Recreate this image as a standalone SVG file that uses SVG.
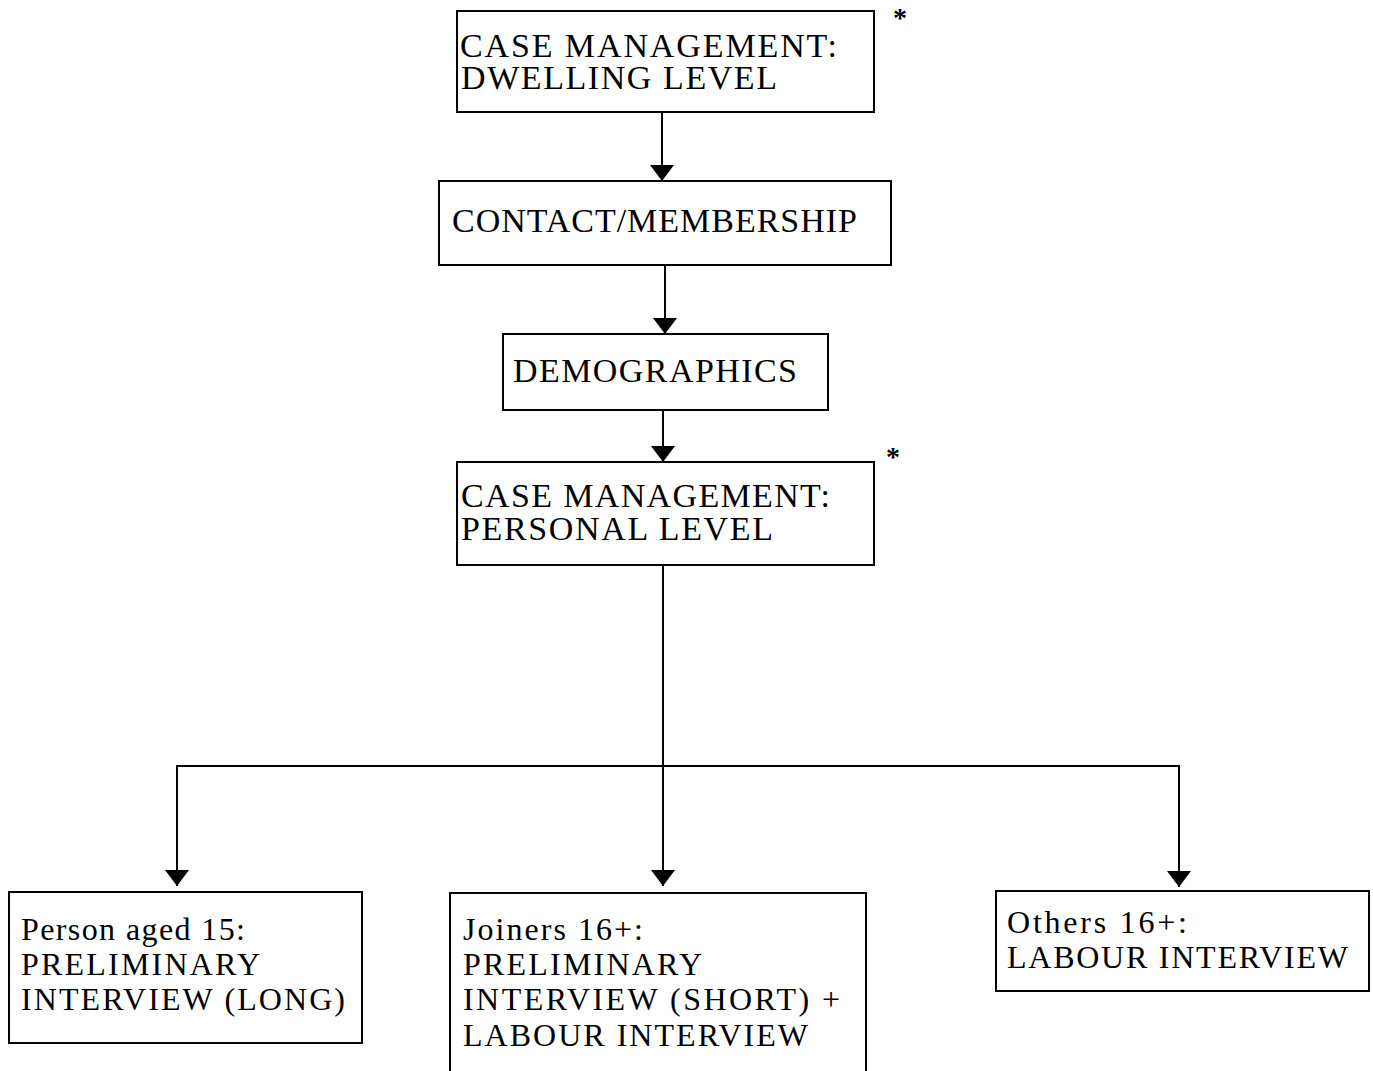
<svg xmlns="http://www.w3.org/2000/svg" width="1373" height="1071" viewBox="0 0 1373 1071">
<style>
  .box { fill: #fff; stroke: #000; stroke-width: 2; }
  .lbl { font-family: "Liberation Serif", "Times New Roman", serif; font-size: 34px; fill: #000; }
  .sm { font-size: 32px; }
  .star { font-family: "Liberation Serif", serif; font-size: 28px; font-weight: bold; fill: #000; text-anchor: middle; }
  .conn { fill: none; stroke: #000; stroke-width: 2; }
</style>
<defs>
  <marker id="arr" viewBox="0 0 16 24" refX="16" refY="12" markerWidth="16" markerHeight="24" markerUnits="userSpaceOnUse" orient="auto">
    <path d="M0,0 L16,12 L0,24 z" fill="#000"/>
  </marker>
</defs>
<rect width="1373" height="1071" fill="#fff"/>
<g id="connectors">
  <line class="conn" x1="662" y1="112" x2="662" y2="181" marker-end="url(#arr)"/>
  <line class="conn" x1="665" y1="265" x2="665" y2="334" marker-end="url(#arr)"/>
  <line class="conn" x1="663" y1="410" x2="663" y2="462" marker-end="url(#arr)"/>
  <line class="conn" x1="663" y1="565" x2="663" y2="886" marker-end="url(#arr)"/>
  <path class="conn" d="M663,766 H177 V886" marker-end="url(#arr)"/>
  <path class="conn" d="M663,766 H1179 V887" marker-end="url(#arr)"/>
</g>
<g id="n1">
  <rect class="box" x="457" y="11" width="417" height="101"/>
  <text class="lbl" x="460" y="57" textLength="377" lengthAdjust="spacing">CASE MANAGEMENT:</text>
  <text class="lbl" x="461" y="89" textLength="316" lengthAdjust="spacing">DWELLING LEVEL</text>
  <text class="star" x="900" y="27">*</text>
</g>
<g id="n2">
  <rect class="box" x="439" y="181" width="452" height="84"/>
  <text class="lbl" x="452" y="232" textLength="405" lengthAdjust="spacing">CONTACT/MEMBERSHIP</text>
</g>
<g id="n3">
  <rect class="box" x="503" y="334" width="325" height="76"/>
  <text class="lbl" x="513" y="382" textLength="284" lengthAdjust="spacing">DEMOGRAPHICS</text>
</g>
<g id="n4">
  <rect class="box" x="457" y="462" width="417" height="103"/>
  <text class="lbl" x="461" y="507" textLength="369" lengthAdjust="spacing">CASE MANAGEMENT:</text>
  <text class="lbl" x="461" y="540" textLength="312" lengthAdjust="spacing">PERSONAL LEVEL</text>
  <text class="star" x="893" y="466">*</text>
</g>
<g id="n5">
  <rect class="box" x="9" y="892" width="353" height="151"/>
  <text class="lbl sm" x="21" y="940" textLength="224" lengthAdjust="spacing">Person aged 15:</text>
  <text class="lbl sm" x="21" y="975" textLength="239" lengthAdjust="spacing">PRELIMINARY</text>
  <text class="lbl sm" x="21" y="1010" textLength="324" lengthAdjust="spacing">INTERVIEW (LONG)</text>
</g>
<g id="n6">
  <rect class="box" x="450" y="893" width="416" height="190"/>
  <text class="lbl sm" x="463" y="940" textLength="180" lengthAdjust="spacing">Joiners 16+:</text>
  <text class="lbl sm" x="463" y="975" textLength="239" lengthAdjust="spacing">PRELIMINARY</text>
  <text class="lbl sm" x="463" y="1010" textLength="377" lengthAdjust="spacing">INTERVIEW (SHORT) +</text>
  <text class="lbl sm" x="463" y="1046" textLength="345" lengthAdjust="spacing">LABOUR INTERVIEW</text>
</g>
<g id="n7">
  <rect class="box" x="996" y="891" width="373" height="100"/>
  <text class="lbl sm" x="1007" y="933" textLength="180" lengthAdjust="spacing">Others 16+:</text>
  <text class="lbl sm" x="1007" y="968" textLength="341" lengthAdjust="spacing">LABOUR INTERVIEW</text>
</g>
</svg>
